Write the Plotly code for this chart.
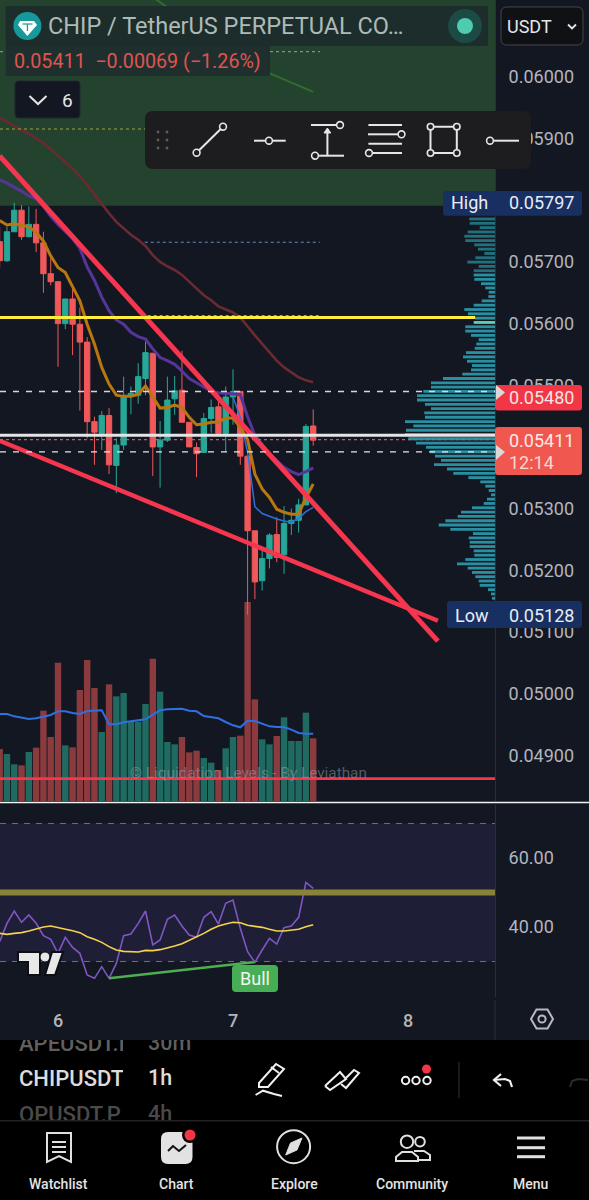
import plotly.graph_objects as go

W, H = 589, 1200

# ---- candle data (hours from the start of the 6th) ----
hours = [-8, -7, -6, -5, -4, -3, -2, -1, 0, 1, 2, 3, 4, 5, 6, 7, 8, 9, 10, 11, 12, 13,
         14, 15, 16, 17, 18, 19, 20, 21, 22, 23, 24, 25, 26, 27, 28, 29, 30, 31, 32, 33, 34, 35]
opens = [.05733, .05702, .05749, .05784, .05741, .05761, .05731, .05681, .05668, .05600, .05640,
         .05599, .05570, .05441, .05422, .05451, .05370, .05403, .05483, .05484, .05511, .05552,
         .05400, .05411, .05478, .05492, .05440, .05399, .05391, .05446, .05465, .05422, .05481,
         .05490, .05385, .05264, .05183, .05219, .05258, .05225, .05276, .05281, .05306, .05434]
highs = [.05757, .05757, .05796, .05792, .05790, .05786, .05749, .05711, .05668, .05640, .05657,
         .05626, .05578, .05449, .05458, .05463, .05414, .05514, .05498, .05536, .05571, .05552,
         .05442, .05514, .05515, .05556, .05440, .05407, .05455, .05477, .05476, .05498, .05526,
         .05490, .05385, .05264, .05233, .05260, .05286, .05304, .05300, .05316, .05437, .05461]
lows = [.05691, .05700, .05749, .05736, .05740, .05716, .05650, .05662, .05530, .05591, .05549,
        .05459, .05414, .05371, .05395, .05356, .05325, .05395, .05453, .05470, .05484, .05353,
        .05334, .05408, .05452, .05440, .05400, .05351, .05391, .05423, .05422, .05392, .05436,
        .05371, .05128, .05153, .05167, .05203, .05213, .05194, .05257, .05261, .05306, .05402]
closes = [.05702, .05749, .05784, .05741, .05761, .05731, .05681, .05668, .05600, .05640, .05599,
          .05570, .05441, .05424, .05451, .05371, .05403, .05483, .05487, .05514, .05553, .05400,
          .05411, .05476, .05491, .05440, .05400, .05389, .05446, .05464, .05422, .05481, .05490,
          .05385, .05264, .05181, .05219, .05257, .05221, .05276, .05281, .05306, .05433, .05411]

volumes = [156, 141, 110, 107, 147, 160, 271, 192, 415, 167, 161, 333, 423, 339, 207, 350, 314, 324,
           238, 238, 291, 427, 328, 177, 170, 192, 146, 151, 129, 115, 93, 158, 192, 196, 597, 305,
           185, 170, 195, 251, 180, 180, 265, 188]
volume_ma = [261, 261, 254, 250, 246, 248, 254, 258, 269, 269, 264, 261, 270, 272, 272, 230, 230, 236,
             239, 240, 245, 259, 272, 275, 276, 277, 271, 269, 255, 252, 248, 237, 227, 221, 241, 240,
             232, 224, 222, 222, 214, 204, 202, 202]

# ---- moving averages on price ----
ema_orange = [.05767, .05760, .05762, .05760, .05757, .05748, .05734, .05710, .05691, .05683, .05659,
              .05637, .05599, .05567, .05529, .05502, .05484, .05482, .05482, .05485, .05499, .05480,
              .05463, .05464, .05468, .05464, .05448, .05436, .05437, .05440, .05440, .05447, .05447,
              .05432, .05412, .05356, .05332, .05318, .05299, .05294, .05291, .05291, .05318, .05340]
ema_purple = [.05833, .05828, .05821, .05815, .05807, .05803, .05790, .05774, .05761, .05749, .05738,
              .05722, .05692, .05670, .05643, .05621, .05606, .05599, .05586, .05579, .05575, .05559,
              .05545, .05540, .05534, .05523, .05511, .05504, .05497, .05490, .05488, .05487, .05486,
              .05485, .05449, .05419, .05404, .05389, .05378, .05367, .05360, .05355, .05360, .05366]
ma_dark_red = [.05934, .05927, .05921, .05914, .05908, .05900, .05893, .05883, .05873, .05862, .05851,
               .05839, .05825, .05809, .05795, .05779, .05765, .05755, .05744, .05736, .05726, .05711,
               .05700, .05693, .05687, .05679, .05668, .05657, .05646, .05638, .05628, .05623, .05618,
               .05610, .05595, .05581, .05567, .05554, .05540, .05529, .05521, .05513, .05508, .05505]
blue_hours = [24, 25, 26, 27, 28, 29, 30, 31, 32, 33, 34, 35]
blue_line = [.05481, .05448, .05391, .05303, .05292, .05287, .05283, .05280, .05278, .05284, .05295, .05302]
green_hours = [13, 21, 28, 35]
green_line = [.06130, .06060, .06011, .05976]

# ---- trend lines and horizontal levels ----
falling_hours = [-8, 52.1]
falling_prices = [.05872, .05085]
support_hours = [-8, 52.1]
support_prices = [.05410, .05118]
yellow_level = .05610
yellow_dots = .05613
blue_dots = .05732
upper_dash = .05490
lower_dash = .05392
white_level = .05419
price_dots = .05412
red_level = .04862
zone_low = .05791
zone_high = .06125

# ---- RSI pane ----
rsi = [35.75, 41.06, 44.64, 41.35, 43.47, 41.06, 37.49, 36.42, 32.37, 37.0, 34.1, 32.37, 26.08, 25.12,
       28.5, 25.12, 29.46, 37.49, 37.97, 41.06, 44.64, 34.78, 36.23, 42.22, 43.47, 40.29, 37.68, 37.0,
       42.8, 44.44, 40.87, 46.86, 47.82, 39.61, 32.85, 29.76, 33.33, 36.71, 35.07, 39.8, 40.29, 42.8,
       52.94, 51.21]
rsi_ma = [38.16, 37.87, 38.16, 38.36, 38.84, 39.52, 40.0, 40.29, 39.9, 39.42, 38.93, 38.36, 37.2, 36.42,
          35.55, 34.3, 33.33, 32.94, 32.75, 32.75, 33.23, 33.14, 33.43, 33.91, 34.49, 35.17, 36.13, 37.1,
          38.16, 39.32, 40.29, 40.87, 41.35, 41.25, 40.48, 40.19, 39.9, 39.32, 38.84, 38.84, 39.03, 39.32,
          40.09, 40.67]
bull_hours = [7, 27]
bull_rsi = [25.12, 29.86]

# ---- visible-range volume profile ----
profile_prices = [.057697, .057627, .057557, .057487, .057417, .057347, .057278, .057208, .057138, .057068,
                  .056998, .056928, .056858, .056788, .056718, .056648, .056578, .056509, .056439, .056369,
                  .056299, .056229, .056159, .056089, .056019, .055949, .055879, .055809, .055740, .055670,
                  .055600, .055530, .055460, .055390, .055320, .055250, .055180, .055110, .055040, .054971,
                  .054901, .054831, .054761, .054691, .054621, .054551, .054481, .054411, .054341, .054271,
                  .054202, .054132, .054062, .053992, .053922, .053852, .053782, .053712, .053642, .053572,
                  .053502, .053433, .053363, .053293, .053223, .053153, .053083, .053013, .052943, .052873,
                  .052803, .052733, .052664, .052594, .052524, .052454, .052384, .052314, .052244, .052174,
                  .052104, .052034, .051964, .051895, .051825, .051755, .051685, .051615, .051545]
profile_volume = [25.7, 25.3, 15.3, 27.3, 30.7, 29.7, 20.7, 17, 10.7, 19.7, 27.7, 16.3, 21.3, 21.3, 20.7, 14,
                  9.7, 6.3, 6.7, 13.3, 21.3, 30.7, 27, 20, 21.3, 29.7, 29.7, 24, 16.3, 18.7, 20.3, 29, 32,
                  28, 23, 24, 32.7, 52, 64, 64, 71.7, 78, 78, 70, 64, 70.7, 70, 90, 81.7, 89, 90, 86.7, 79,
                  69, 65, 60, 54, 61, 48, 41.7, 26.7, 14.7, 9.7, 6.3, 4, 8, 11.3, 23, 34, 37.3, 49.7, 56.3,
                  44.7, 22, 26.3, 25.3, 25.3, 21.3, 20.7, 29.7, 38, 27.3, 23, 19.7, 16.3, 15.3, 7, 4, 3]

# ---- axis labels (the 0.058 and 0.054 marks sit under the High and last-price flags) ----
price_ticks = [.049, .050, .051, .052, .053, .055, .056, .057, .059, .060]
rsi_ticks = [40, 60]
day_ticks = [0, 24, 48]
day_labels = ["6", "7", "8"]

BG = "#131722"
RED = "#f0585a"
TEAL = "#27a797"
TREND = "#f5364e"
TXT = "#b2b5be"
FONT = "Roboto"
X_RANGE = [-7.954, 59.93]


def fx(x):
    return x / W


def fy(y):
    return 1 - y / H


shapes = []
notes = []


def path_of(pts, close=False):
    d = "M" + " L".join(f"{fx(x):.5f},{fy(y):.5f}" for x, y in pts)
    return d + (" Z" if close else "")


def stroke(pts, color="#e6e6e6", width=2, fill=None, close=False):
    shapes.append(dict(type="path", xref="paper", yref="paper", path=path_of(pts, close),
                       line=dict(color=color, width=width),
                       fillcolor=fill if fill else "rgba(0,0,0,0)"))


def rbox(x0, y0, x1, y1, r, fill, edge=None, width=1, layer="above"):
    c = lambda x, y: f"{fx(x):.5f},{fy(y):.5f}"
    d = (f"M{c(x0 + r, y0)} L{c(x1 - r, y0)} Q{c(x1, y0)} {c(x1, y0 + r)} L{c(x1, y1 - r)} "
         f"Q{c(x1, y1)} {c(x1 - r, y1)} L{c(x0 + r, y1)} Q{c(x0, y1)} {c(x0, y1 - r)} "
         f"L{c(x0, y0 + r)} Q{c(x0, y0)} {c(x0 + r, y0)} Z")
    shapes.append(dict(type="path", xref="paper", yref="paper", path=d, fillcolor=fill, layer=layer,
                       line=dict(color=edge if edge else "rgba(0,0,0,0)", width=width if edge else 0)))


def dot(x, y, r, fill="rgba(0,0,0,0)", edge="#e6e6e6", width=1.6):
    shapes.append(dict(type="circle", xref="paper", yref="paper", x0=fx(x - r), x1=fx(x + r),
                       y0=fy(y + r), y1=fy(y - r), fillcolor=fill,
                       line=dict(color=edge, width=width)))


def label(x, y, text, size=18, color=TXT, anchor="left", weight=400):
    notes.append(dict(xref="paper", yref="paper", x=fx(x), y=fy(y), text=text, showarrow=False,
                      xanchor=anchor, yanchor="middle", borderpad=0,
                      font=dict(family=FONT, size=size, color=color, weight=weight)))


fig = go.Figure()

# volume histogram and its average sit on the bottom axis of the price pane
vol_colors = ["#1f6b62" if c >= o else "#8b3a3d" for o, c in zip(opens, closes)]
fig.add_trace(go.Bar(x=hours, y=volumes, width=0.88, marker=dict(color=vol_colors, line=dict(width=0)),
                     xaxis="x", yaxis="y"))
fig.add_trace(go.Scatter(x=hours, y=volume_ma, mode="lines", line=dict(color="#2f6fe0", width=2),
                         xaxis="x", yaxis="y"))

# candles
fig.add_trace(go.Candlestick(x=hours, open=opens, high=highs, low=lows, close=closes,
                             whiskerwidth=0,
                             increasing=dict(line=dict(color=TEAL, width=1), fillcolor=TEAL),
                             decreasing=dict(line=dict(color=RED, width=1), fillcolor=RED),
                             xaxis="x", yaxis="y2"))

# moving averages and hand-drawn trend lines
for xs, ys, color, width in [
    (green_hours, green_line, "#2f6e2f", 2),
    (hours, ma_dark_red, "#6b2a30", 2.6),
    (hours, ema_purple, "#55359a", 3),
    (blue_hours, blue_line, "#2f6fe0", 1.5),
    (hours, ema_orange, "#b8770f", 3),
    (falling_hours, falling_prices, TREND, 5),
    (support_hours, support_prices, TREND, 4.5),
]:
    fig.add_trace(go.Scatter(x=xs, y=ys, mode="lines", line=dict(color=color, width=width),
                             xaxis="x", yaxis="y2"))

# volume profile growing leftwards from the price scale
profile_colors = ["#5fcfb0" if i == 24 else ("#22707c" if i < 13 else "#2a8fa0")
                  for i in range(len(profile_prices))]
fig.add_trace(go.Bar(x=profile_volume, y=profile_prices, orientation="h", width=.000046,
                     marker=dict(color=profile_colors, line=dict(width=0)), xaxis="x2", yaxis="y2"))

# RSI lines
fig.add_trace(go.Scatter(x=hours, y=rsi, mode="lines", line=dict(color="#7e57c2", width=1.6),
                         xaxis="x3", yaxis="y3"))
fig.add_trace(go.Scatter(x=hours, y=rsi_ma, mode="lines", line=dict(color="#f5d34a", width=1.6),
                         xaxis="x3", yaxis="y3"))
fig.add_trace(go.Scatter(x=bull_hours, y=bull_rsi, mode="lines", line=dict(color="#4caf50", width=2.5),
                         xaxis="x3", yaxis="y3"))

# ticker list behind the toolbar, clipped by its own small subplots
fig.add_trace(go.Scatter(x=[19, 19, 19], y=[1045, 1080, 1116], mode="text",
                         text=["APEUSDT.P", "CHIPUSDT.P", "OPUSDT.P"], textposition="middle right",
                         textfont=dict(family=FONT, size=22, color=["#5f5f5f", "#dcdcdc", "#4a4a4a"], weight=500),
                         xaxis="x4", yaxis="y4", cliponaxis=True))
fig.add_trace(go.Scatter(x=[148, 148, 148], y=[1045, 1080, 1116], mode="text",
                         text=["30m", "1h", "4h"], textposition="middle right",
                         textfont=dict(family=FONT, size=21.5, color=["#5f5f5f", "#dcdcdc", "#4a4a4a"], weight=500),
                         xaxis="x5", yaxis="y5", cliponaxis=True))

# ---- background regions ----
shapes.append(dict(type="rect", xref="x", yref="y2", x0=X_RANGE[0], x1=X_RANGE[1], y0=zone_low, y1=zone_high,
                   fillcolor="#24432f", line=dict(width=0), layer="below"))
shapes.append(dict(type="rect", xref="x3", yref="y3", x0=X_RANGE[0], x1=X_RANGE[1], y0=30, y1=70,
                   fillcolor="#1e1e36", line=dict(width=0), layer="below"))
shapes.append(dict(type="rect", xref="paper", yref="paper", x0=0, x1=1, y0=0, y1=fy(1040),
                   fillcolor="#000000", line=dict(width=0), layer="below"))

# ---- horizontal levels ----
for y, x0, x1, color, width, dash, ref, xr in [
    (yellow_dots, 12.3, 35.9, "#b3a93a", 1.3, "dot", "y2", "x"),
    (yellow_level, X_RANGE[0], 57.2, "#ffec3d", 3, "solid", "y2", "x"),
    (blue_dots, 11.9, 35.9, "#6f86c8", 1.2, "dot", "y2", "x"),
    (upper_dash, X_RANGE[0], X_RANGE[1], "#d6d6d6", 1.4, "6px,7px", "y2", "x"),
    (lower_dash, X_RANGE[0], X_RANGE[1], "#e6e6e6", 1.4, "6px,7px", "y2", "x"),
    (price_dots, X_RANGE[0], X_RANGE[1], "#c55a62", 1.2, "dot", "y2", "x"),
    (white_level, X_RANGE[0], X_RANGE[1], "#e4e4e4", 3, "solid", "y2", "x"),
    (red_level, X_RANGE[0], X_RANGE[1], TREND, 2.6, "solid", "y2", "x"),
    (70, X_RANGE[0], X_RANGE[1], "#6e7078", 1, "6px,6px", "y3", "x3"),
    (30, X_RANGE[0], X_RANGE[1], "#6e7078", 1, "6px,6px", "y3", "x3"),
    (50, X_RANGE[0], X_RANGE[1], "#8a8238", 6, "solid", "y3", "x3"),
]:
    shapes.append(dict(type="line", xref=xr, yref=ref, x0=x0, x1=x1, y0=y, y1=y,
                       line=dict(color=color, width=width, dash=dash)))

# dotted levels above the header, pane separator and scale edge
stroke([(0, 51.7), (320, 51.7)], "#8fa8a0", 1)
shapes[-1]["line"]["dash"] = "dot"
stroke([(0, 129), (145, 129)], "#a5a23a", 1.2)
shapes[-1]["line"]["dash"] = "dot"
stroke([(0, 802.5), (589, 802.5)], "#f2f2f2", 1.6)
stroke([(495, 1000), (495, 1040)], "#2a2e39", 1)

# ---- header ----
rbox(5.6, 6, 488, 46, 1, "#1d2d2b")
rbox(5.6, 46, 270, 76, 1, "#1f2f2e")
dot(27.4, 26, 14, "#17989a", "#17989a", 0)
stroke([(20, 21), (34, 21), (37, 25), (27.4, 36), (18, 25)], "#ffffff", 0, "#ffffff", True)
stroke([(22.5, 24), (32.5, 24)], "#17989a", 1.2)
stroke([(27.4, 24), (27.4, 31)], "#17989a", 1.2)
label(47, 26, "CHIP / TetherUS PERPETUAL CO…", 23.5, "#aebab7")
dot(465, 26, 17, "#1c4a45", "#1c4a45", 0)
dot(465, 26, 8, "#4fcbb0", "#4fcbb0", 0)
label(13, 61.5, "0.05411  −0.00069 (−1.26%)", 19.7, "#e0544f")
rbox(15, 81, 80, 118, 3, BG, "#232733")
stroke([(29.5, 96), (38, 104), (46.5, 96)], "#e6e6e6", 2)
label(61, 100, "6", 19, "#e6e6e6")
rbox(501, 7, 583, 45, 6, "#101114", "#43464f", 1)
label(506, 26, "USDT", 18, "#e6e6e6")
stroke([(568, 24.5), (572, 28.5), (576, 24.5)], "#e6e6e6", 1.8)

# ---- floating drawing toolbar ----
rbox(145, 111, 531, 169, 8, "#1d1d20")
for gx in (158, 167):
    for gy in (132, 140, 148):
        dot(gx, gy, 1.4, "#5e5e62", "#5e5e62", 0)
stroke([(196.6, 152.7), (223, 126.7)])
dot(196.6, 152.7, 3.4, "#1d1d20")
dot(223, 126.7, 3.4, "#1d1d20")
stroke([(254, 140.7), (285.7, 140.7)])
dot(269, 140.7, 3.4, "#1d1d20")
stroke([(311, 125), (336.5, 125)])
dot(340, 125, 3.4, "#1d1d20")
stroke([(327.4, 130), (327.4, 155.7)])
stroke([(324, 133), (327.4, 128), (330.8, 133)], "#e6e6e6", 1, "#e6e6e6", True)
stroke([(319, 155.7), (344, 155.7)])
dot(315, 155.7, 3.4, "#1d1d20")
for ly, x0, x1 in [(125, 368.4, 402), (134.3, 368, 398), (143.7, 368.4, 402), (153, 373, 402)]:
    stroke([(x0, ly), (x1, ly)])
dot(401.5, 134.3, 3.4, "#1d1d20")
dot(369, 153, 3.4, "#1d1d20")
stroke([(430.5, 126.7), (456.8, 126.7), (456.8, 153), (430.5, 153)], close=True)
for cx, cy in [(430.5, 126.7), (456.8, 126.7), (456.8, 153), (430.5, 153)]:
    dot(cx, cy, 3.2, "#1d1d20")
stroke([(493, 140.7), (519, 140.7)])
dot(490, 140.7, 3.4, "#1d1d20")

# ---- price scale flags ----
rbox(443, 191, 582, 215.7, 3, "#182f62")
label(449.5, 202.5, "High", 18, "#e8ecf4")
label(508, 202.5, "0.05797", 18, "#e8ecf4")
rbox(447, 601, 582, 628, 3, "#182f62")
label(453.5, 615, "Low", 18, "#e8ecf4")
label(508, 615, "0.05128", 18, "#e8ecf4")
rbox(495, 385, 582, 410.5, 3, "#f23645")
label(508, 397.5, "0.05480", 18, "#f7e4e4")
rbox(495, 427, 582, 475, 3, "#f0574f")
label(508, 440.5, "0.05411", 18, "#fbeae8")
label(508, 462, "12:14", 18, "#f8d7d2")
stroke([(496, 385), (505, 392.5), (496, 400)], "#d9d9d9", 0, "#d9d9d9", True)
stroke([(496, 445), (505, 452), (496, 460)], "#d9d9d9", 0, "#d9d9d9", True)

# ---- watermark, Bull flag, logo ----
notes.append(dict(xref="paper", yref="paper", x=fx(128), y=fy(773), text="© Liquidation Levels - By Leviathan",
                  showarrow=False, xanchor="left", yanchor="middle",
                  font=dict(family=FONT, size=15.3, color="rgba(170,175,185,0.45)")))
rbox(232, 965, 278, 992, 4, "#46ae55")
label(255, 978.5, "Bull", 18, "#f2f7f2", "center")
stroke([(18, 952), (40, 952), (40, 975), (28, 975), (28, 962), (18, 962)], "#0c0e14", 2, "#e8e8e8", True)
dot(45, 957, 5, "#e8e8e8", "#0c0e14", 1)
stroke([(52, 952), (63, 952), (55, 975), (45, 975)], "#0c0e14", 2, "#e8e8e8", True)

# ---- chart settings gear ----
stroke([(531, 1019), (536.5, 1009.5), (547.5, 1009.5), (553, 1019), (547.5, 1028.5), (536.5, 1028.5)],
       "#b7bac2", 2, None, True)
dot(542, 1019, 3.6, "rgba(0,0,0,0)", "#b7bac2", 2)

# ---- bottom tool row ----
stroke([(259, 1083), (276, 1064), (284, 1069), (268, 1087), (259, 1087)], "#f0f0f0", 2, None, True)
stroke([(271, 1067), (279, 1073)], "#f0f0f0", 2)
stroke([(255.6, 1095), (263, 1090.7), (274, 1094), (282, 1096)], "#f0f0f0", 2)
stroke([(325, 1086), (340, 1072), (346, 1079), (330, 1090), (325, 1086)], "#f0f0f0", 2)
stroke([(341, 1084), (346, 1088), (359, 1073), (354, 1070), (346, 1078)], "#f0f0f0", 2)
for cx in (405.6, 416, 427):
    dot(cx, 1080.5, 3.7, "rgba(0,0,0,0)", "#f0f0f0", 2)
dot(426.5, 1069, 4.5, "#f23645", "#f23645", 0)
stroke([(459, 1062), (459, 1098)], "#222226", 1.5)
stroke([(512, 1087), (510, 1081), (505, 1079), (494, 1080)], "#f0f0f0", 2.2)
stroke([(501, 1074), (494, 1080), (501, 1086)], "#f0f0f0", 2.2)
stroke([(570, 1087), (572, 1081), (578, 1079), (588, 1080)], "#2c2c2c", 2)

# ---- navigation bar ----
stroke([(0, 1120.7), (589, 1120.7)], "#232326", 1.4)
stroke([(47, 1133), (71, 1133), (71, 1162), (59, 1156), (47, 1162)], "#e0e0e0", 2, None, True)
for ly in (1142, 1147, 1152):
    stroke([(52, ly), (66, ly)], "#e0e0e0", 2)
rbox(161, 1132, 192.5, 1164, 7, "#e2e2e2")
stroke([(168, 1151), (173, 1146), (179, 1151), (186, 1145)], "#101010", 2)
dot(190, 1135, 8, "#000000", "#000000", 0)
dot(190, 1135, 5.5, "#f23645", "#f23645", 0)
dot(293.6, 1146.7, 16.5, "rgba(0,0,0,0)", "#e0e0e0", 2)
stroke([(302, 1138), (297, 1150), (285.7, 1155), (290.5, 1143)], "#e0e0e0", 1, "#e0e0e0", True)
dot(407, 1141.7, 6.2, "rgba(0,0,0,0)", "#e0e0e0", 2)
dot(420, 1141.7, 4.8, "rgba(0,0,0,0)", "#e0e0e0", 2)
stroke([(396, 1161), (396, 1157), (402, 1152), (412, 1152), (418, 1157), (418, 1161)], "#e0e0e0", 2, None, True)
stroke([(414, 1151), (424, 1151), (430, 1155), (430, 1160), (419, 1160)], "#e0e0e0", 2)
for ly in (1138, 1147.7, 1156.7):
    stroke([(517, ly), (545, ly)], "#e0e0e0", 3)
for x, text in [(58, "Watchlist"), (176.7, "Chart"), (294, "Explore"), (412, "Community"), (530, "Menu")]:
    label(x, 1184, text, 14, "#e4e4e4", "center", 500)

price_range = [.048257, .061249]
pane_bottom = fy(801)
axis_hidden = dict(visible=False, showgrid=False, zeroline=False)

fig.update_layout(
    width=W, height=H, margin=dict(l=0, r=0, t=0, b=0), autosize=False,
    paper_bgcolor=BG, plot_bgcolor="rgba(0,0,0,0)", showlegend=False, barmode="overlay",
    boxmode="group", boxgap=0.27, boxgroupgap=0, dragmode=False, hovermode=False,
    font=dict(family=FONT, color=TXT),
    xaxis=dict(domain=[0, 495 / W], range=X_RANGE, anchor="y", rangeslider=dict(visible=False), **axis_hidden),
    xaxis2=dict(domain=[0, 495 / W], range=[495, 0], anchor="y2", overlaying="x", **axis_hidden),
    xaxis3=dict(domain=[0, 495 / W], range=X_RANGE, anchor="y3", showgrid=False, zeroline=False, showline=False,
                tickmode="array", tickvals=day_ticks, ticktext=day_labels, ticks="", ticklabelstandoff=11,
                tickfont=dict(family=FONT, size=18, color=TXT, weight=500)),
    xaxis4=dict(domain=[0, 123 / W], range=[0, 123], anchor="y4", **axis_hidden),
    xaxis5=dict(domain=[123 / W, 225 / W], range=[123, 225], anchor="y5", **axis_hidden),
    yaxis=dict(domain=[pane_bottom, 1], range=[0, 2403], anchor="x", **axis_hidden),
    yaxis2=dict(domain=[pane_bottom, 1], range=price_range, overlaying="y", anchor="x", side="right",
                showgrid=False, zeroline=False, showline=True, linecolor="#2a2e39", linewidth=1,
                tickmode="array", tickvals=price_ticks, tickformat=".5f", ticks="", ticklabelstandoff=9,
                tickfont=dict(family=FONT, size=18, color=TXT)),
    yaxis3=dict(domain=[fy(997), fy(805)], range=[19.71, 75.36], anchor="x3", side="right",
                showgrid=False, zeroline=False, showline=True, linecolor="#2a2e39", linewidth=1,
                tickmode="array", tickvals=rsi_ticks, tickformat=".2f", ticks="", ticklabelstandoff=9,
                tickfont=dict(family=FONT, size=18, color=TXT)),
    yaxis4=dict(domain=[fy(1120), fy(1040)], range=[1120, 1040], anchor="x4", **axis_hidden),
    yaxis5=dict(domain=[fy(1120), fy(1040)], range=[1120, 1040], anchor="x5", **axis_hidden),
    shapes=shapes, annotations=notes,
)

fig.write_html("out.html", config=dict(displayModeBar=False, responsive=False))
